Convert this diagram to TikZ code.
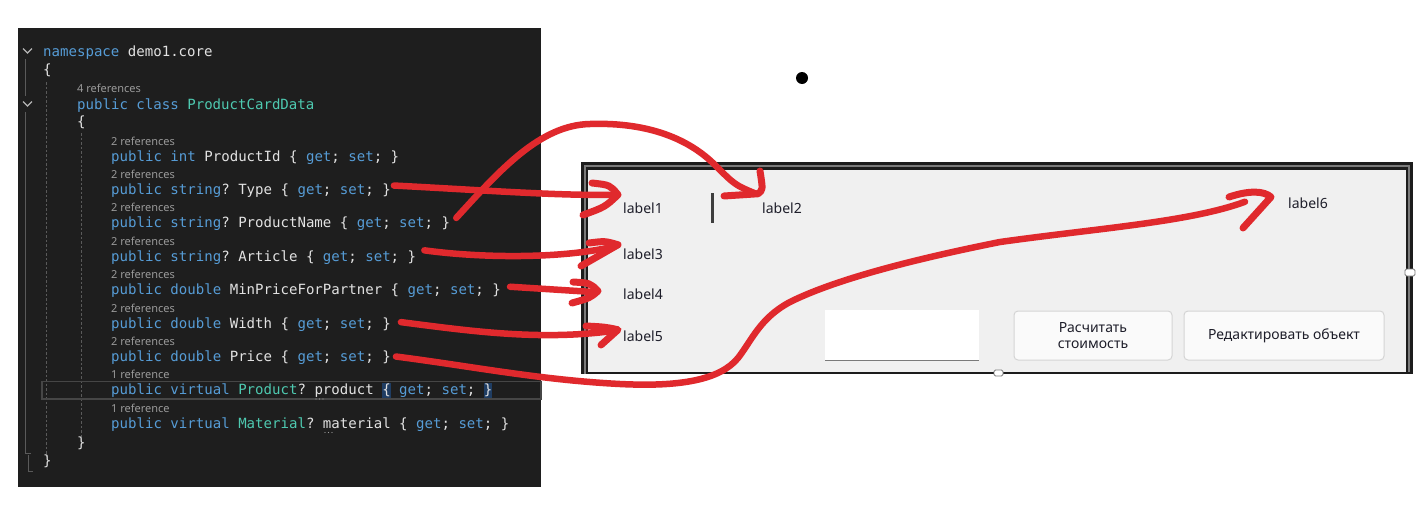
\documentclass[tikz,border=0pt]{standalone}
\usepackage{fontspec}
\setmainfont{Noto Sans}
\setmonofont{DejaVu Sans Mono}
\usetikzlibrary{calc}

\definecolor{codebg}{HTML}{1E1E1E}
\definecolor{ckwc}{HTML}{569CD6}
\definecolor{ctyc}{HTML}{4EC9B0}
\definecolor{cidc}{HTML}{E2E2E2}
\definecolor{refgray}{HTML}{9A9A9A}
\definecolor{guide}{HTML}{5A5A5A}
\definecolor{linebox}{HTML}{464646}
\definecolor{bracebg}{HTML}{1F3D63}
\definecolor{framedark}{HTML}{1C1C1C}
\definecolor{framegray}{HTML}{7A7A7A}
\definecolor{formbg}{HTML}{F0F0F0}
\definecolor{labeltext}{HTML}{1E1E2A}
\definecolor{btnborder}{HTML}{D4D4D4}
\definecolor{inkred}{HTML}{E0292D}

\newcommand\ckw[1]{\textcolor{ckwc}{#1}}
\newcommand\cty[1]{\textcolor{ctyc}{#1}}

\tikzset{
  code/.style={anchor=base west, inner sep=0pt, text=cidc,
    font=\ttfamily\fontsize{14.07}{16}\selectfont\frenchspacing},
  refs/.style={anchor=base west, inner sep=0pt, text=refgray,
    font=\fontsize{11}{13}\selectfont},
  formlabel/.style={anchor=base west, inner sep=0pt, text=labeltext,
    font=\fontsize{14}{16}\selectfont},
  btntext/.style={text=labeltext, align=center, inner sep=0pt,
    font=\fontsize{14}{18}\selectfont},
  button/.style={draw=btnborder, fill=white!70!formbg, rounded corners=4pt, line width=1pt},
  chevron/.style={draw=cidc!80!black, line width=1.1pt},
  fold/.style={draw=guide, line width=1pt},
  indent/.style={draw=guide, line width=1pt, dash pattern=on 2.5pt off 2pt},
  ink/.style={draw=inkred, line width=6.5pt, line cap=round, line join=round},
  inkhead/.style={draw=inkred, line width=7pt, line cap=round, line join=round},
  handle/.style={draw=framegray, fill=white, line width=0.8pt, rounded corners=1.5pt},
}

\begin{document}
\begin{tikzpicture}[x=1pt, y=-1pt]
\useasboundingbox (0,0) rectangle (1416,514);
\fill[white] (0,0) rectangle (1416,514);

% ---------- code editor panel ----------
\fill[codebg] (18,28) rectangle (541,487);

% folding chevrons and fold lines
\draw[chevron] (23,48.5) -- (27.5,53) -- (32,48.5);
\draw[chevron] (23,101.5) -- (27.5,106) -- (32,101.5);
\draw[fold] (25.5,59) -- (25.5,96);
\draw[fold] (25.5,112) -- (25.5,453) -- (31,453);
\draw[fold] (28,455) -- (28,471) -- (33,471);

% indentation guides
\draw[indent] (46,82) -- (46,456);
\draw[indent] (81,133) -- (81,438);

% current-line box and brace-match highlights
\draw[linebox, line width=1.3pt] (42,381.5) rectangle (541,399);
\fill[bracebg] (382,383) rectangle (390.5,398);
\fill[bracebg] (483.7,383) rectangle (492.2,398);

% code text
\node[code] (ns)   at (43,56)  {\ckw{namespace} demo1.core};
\node[code] (ob1)  at (43,74)  {\{};
\node[refs] (r0)   at (77,92)  {4 references};
\node[code] (cls)  at (77,109) {\ckw{public} \ckw{class} \cty{ProductCardData}};
\node[code] (ob2)  at (77,126) {\{};

\node[refs] (r1) at (111,145)   {2 references};
\node[code] (pid)  at (111,161)   {\ckw{public} \ckw{int} ProductId \{ \ckw{get}; \ckw{set}; \}};
\node[refs] (r2) at (111,178.4) {2 references};
\node[code] (ptype) at (111,194.4) {\ckw{public} \ckw{string}? Type \{ \ckw{get}; \ckw{set}; \}};
\node[refs] (r3) at (111,211.8) {2 references};
\node[code] (pname) at (111,227.8) {\ckw{public} \ckw{string}? ProductName \{ \ckw{get}; \ckw{set}; \}};
\node[refs] (r4) at (111,245.2) {2 references};
\node[code] (part) at (111,261.2) {\ckw{public} \ckw{string}? Article \{ \ckw{get}; \ckw{set}; \}};
\node[refs] (r5) at (111,278.6) {2 references};
\node[code] (pmin) at (111,294.6) {\ckw{public} \ckw{double} MinPriceForPartner \{ \ckw{get}; \ckw{set}; \}};
\node[refs] (r6) at (111,312)   {2 references};
\node[code] (pwid) at (111,328)   {\ckw{public} \ckw{double} Width \{ \ckw{get}; \ckw{set}; \}};
\node[refs] (r7) at (111,345.4) {2 references};
\node[code] (ppri) at (111,361.4) {\ckw{public} \ckw{double} Price \{ \ckw{get}; \ckw{set}; \}};
\node[refs] (r8) at (111,378.8) {1 reference};
\node[code] (pprod) at (111,394.8) {\ckw{public} \ckw{virtual} \cty{Product}? product \{ \ckw{get}; \ckw{set}; \}};
\node[refs] (r9) at (111,412.2) {1 reference};
\node[code] (pmat) at (111,428.2) {\ckw{public} \ckw{virtual} \cty{Material}? material \{ \ckw{get}; \ckw{set}; \}};
\node[code] (cb2) at (77,447) {\}};
\node[code] (cb1) at (43,465) {\}};

% suggestion dots under identifiers
\foreach \x in {316,319.5,323} \fill[refgray] (\x,399) circle (0.7);
\foreach \x in {325,328.5,332} \fill[refgray] (\x,432.5) circle (0.7);

% ---------- form window ----------
\fill[framedark] (581,162) rectangle (1413,374);
\draw[framegray, line width=1.2pt] (585,374) -- (585,166) -- (1409,166) -- (1409,372);
\fill[formbg] (588,170) rectangle (1406,372);

\node[handle, minimum width=10pt, minimum height=7pt, inner sep=0pt] (hr) at (1410,272.5) {};
\node[handle, minimum width=9pt, minimum height=6pt, inner sep=0pt] (hb) at (998.5,373) {};

% labels
\node[formlabel] (label1) at (623,213) {label1};
\node[formlabel] (label2) at (762,213) {label2};
\node[formlabel] (label3) at (623,259) {label3};
\node[formlabel] (label4) at (623,299) {label4};
\node[formlabel] (label5) at (623,341) {label5};
\node[formlabel] (label6) at (1288,208) {label6};

% separator mark
\draw[framedark!85!white, line width=2.2pt] (712.5,193) -- (712.5,223);

% text box and buttons
\fill[white] (825,310) rectangle (979,361);
\draw[framegray, line width=1pt] (825,360.5) -- (979,360.5);
\node[button, minimum width=158pt, minimum height=49pt, inner sep=0pt] (calc) at (1093,335.5) {};
\node[btntext] at (calc.center) {Расчитать\\[-2pt]стоимость};
\node[button, minimum width=200pt, minimum height=49pt, inner sep=0pt] (edit) at (1284,335.5) {};
\node[btntext] at (edit.center) {Редактировать объект};

% dot
\fill[black] (802,78) circle (6);

% ---------- hand-drawn red arrows ----------
\coordinate (s1) at ($(ptype.east)+(3,-5)$);
\coordinate (s2) at ($(pname.east)+(6,-6)$);
\coordinate (s3) at ($(part.east)+(8,-7)$);
\coordinate (s4) at ($(pmin.east)+(9,-4)$);
\coordinate (s5) at ($(pwid.east)+(10,-2)$);
\coordinate (s6) at ($(ppri.east)+(5,-1)$);

% Type -> label1
\draw[ink] (s1) .. controls (480,190) and (560,196) .. ($(label1.west)+(-8,-13)$);
\draw[inkhead] (592,183) .. controls (610,185) .. ($(label1.west)+(-5,-13)$) .. controls (605,207) .. (583,215);

% ProductName -> label2
\draw[ink] (s2) .. controls (500,170) and (540,125) .. (590,124)
  .. controls (650,122) and (690,140) .. (715,165)
  .. controls (735,185) .. ($(label2.west)+(-6,-14)$);
\draw[inkhead] (724,196) -- ($(label2.west)+(-4,-14)$) .. controls (763,190) .. (760,171);

% Article -> label3
\draw[ink] (s3) .. controls (480,258) and (560,259) .. ($(label3.west)+(-10,-7)$);
\draw[inkhead] (589,243) .. controls (605,241) .. ($(label3.west)+(-5,-9)$) -- (581,266);

% MinPriceForPartner -> label4
\draw[ink] (s4) -- (593,292);
\draw[inkhead] (573,282) .. controls (590,283) .. (598,291) .. controls (590,298) .. (572,303);

% Width -> label5
\draw[ink] (s5) .. controls (470,331) and (540,341) .. ($(label5.west)+(-9,-5)$);
\draw[inkhead] (586,326) .. controls (605,327) .. ($(label5.west)+(-5,-6)$) -- (601,345);

% Price -> label6
\draw[ink] (s6) .. controls (470,366) and (540,380) .. (620,384)
  .. controls (680,387) and (720,380) .. (738,358)
  .. controls (752,340) and (760,318) .. (790,302)
  .. controls (830,282) and (900,262) .. (1000,242)
  .. controls (1100,228) and (1190,222) .. ($(label6.west)+(-43,-1)$);
\draw[inkhead] (1229,197) .. controls (1250,190) and (1264,191) .. (1271,197) -- (1243,228);
\end{tikzpicture}
\end{document}
